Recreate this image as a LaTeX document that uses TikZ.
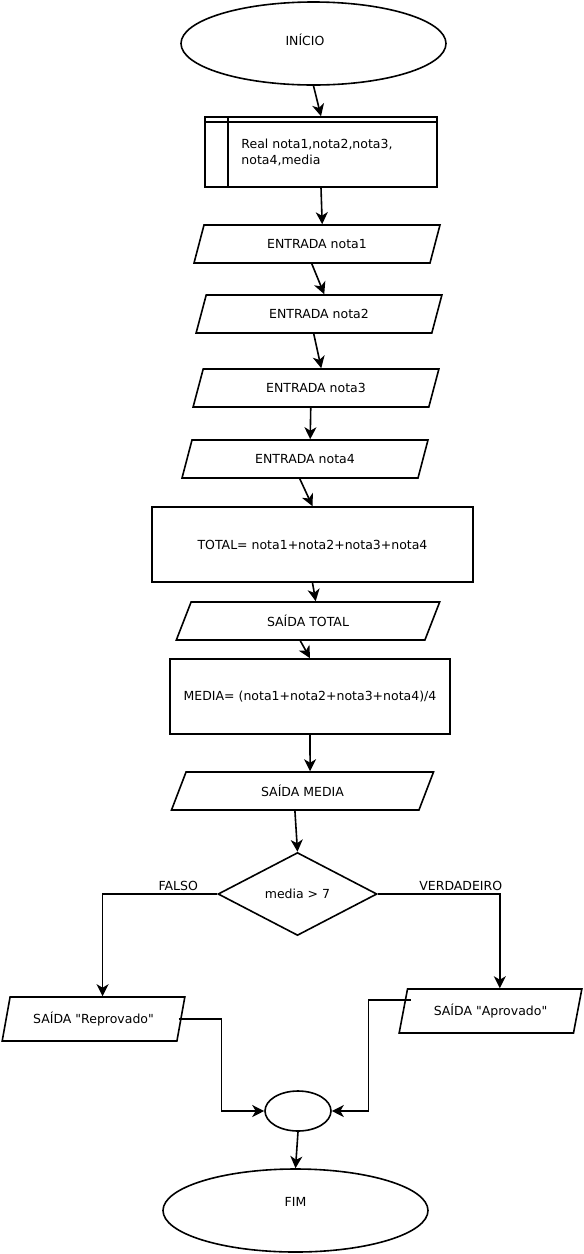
\documentclass[tikz,border=0pt]{standalone}
\usepackage{fontspec}
\setmainfont{DejaVu Sans}[Ligatures=TeXOff]
\usetikzlibrary{shapes.geometric, arrows.meta}

\tikzset{
    base/.style={draw, line width=1.6pt, font=\fontsize{12.5}{16}\selectfont, inner sep=2pt},
    terminal/.style={base, ellipse, minimum width=265, minimum height=83},
    declbox/.style={base, rectangle, minimum width=232, minimum height=70, align=left},
    procbox/.style={base, rectangle, minimum height=75},
    iobox/.style={base, trapezium, trapezium stretches=true,
        trapezium left angle=71, trapezium right angle=109, minimum height=38},
    decision/.style={base, diamond, minimum width=159, minimum height=78},
    joint/.style={base, ellipse, minimum width=66, minimum height=40},
    flow/.style={line width=1.6pt, -{Stealth[length=12pt, width=12pt, inset=3.5pt]}},
    branch/.style={font=\fontsize{12.5}{16}\selectfont, above, inner sep=3pt}
}

\begin{document}
\begin{tikzpicture}[x=1pt, y=-1pt]
    \useasboundingbox (0,0) rectangle (584,1254);

    % Start and declarations
    \node[terminal] (inicio) at (313.5,43.5) {\raisebox{7pt}{INÍCIO}\kern17pt};
    \node[declbox, inner xsep=6pt] (decl) at (321,152) {\hspace{-8pt}Real nota1,nota2,nota3,\\\hspace{-8pt}nota4,media};
    \draw[line width=1.6pt] ([yshift=-6pt]decl.north west) -- ([yshift=-6pt]decl.north east);
    \draw[line width=1.6pt] ([xshift=24pt]decl.north west) -- ([xshift=24pt]decl.south west);

    % Inputs
    \node[iobox, minimum width=246] (in1) at (317,244) {ENTRADA nota1};
    \node[iobox, minimum width=246] (in2) at (319,314) {ENTRADA nota2};
    \node[iobox, minimum width=246] (in3) at (316,388) {ENTRADA nota3};
    \node[iobox, minimum width=246] (in4) at (305,459) {ENTRADA nota4};

    % Processing
    \node[procbox, minimum width=321] (total) at (312.5,544.5) {TOTAL= nota1+nota2+nota3+nota4};
    \node[iobox, minimum width=264] (stotal) at (308,621) {SAÍDA TOTAL};
    \node[procbox, minimum width=280] (media) at (310,696.5) {MEDIA= (nota1+nota2+nota3+nota4)/4};
    \node[iobox, minimum width=263] (smedia) at (302.5,791) {SAÍDA MEDIA};

    % Decision
    \node[decision] (cond) at (297.5,894) {media > 7};
    \node[iobox, minimum width=183, minimum height=44, trapezium left angle=72, trapezium right angle=108] (srep) at (93.5,1019) {SAÍDA "Reprovado"};
    \node[iobox, minimum width=183, minimum height=44, trapezium left angle=72, trapezium right angle=108] (sapr) at (490.5,1011) {SAÍDA "Aprovado"};

    % End
    \node[joint] (join) at (298,1111) {};
    \node[terminal] (fim) at (295.5,1210.5) {\raisebox{17pt}{FIM}};

    % Connectors
    \draw[flow] (inicio.south) -- (decl.north);
    \draw[flow] (decl.south) -- (in1.top side);
    \draw[flow] (in1.bottom side) -- (in2.top side);
    \draw[flow] (in2.bottom side) -- (in3.top side);
    \draw[flow] (in3.bottom side) -- (in4.top side);
    \draw[flow] (in4.bottom side) -- (total.north);
    \draw[flow] (total.south) -- (stotal.top side);
    \draw[flow] (stotal.bottom side) -- (media.north);
    \draw[flow] (media.south) -- (smedia.top side);
    \draw[flow] (smedia.bottom side) -- (cond.north);
    \draw[flow] (cond.west) -| node[branch, pos=0.17] {FALSO} ([xshift=5pt]srep.top side);
    \draw[flow] (cond.east) -| node[branch, pos=0.34] {VERDADEIRO} ([xshift=5pt]sapr.top side);
    \draw[flow] ([xshift=-3pt]srep.right side) -- ++(43,0) |- (join.west);
    \draw[flow] ([xshift=8pt, yshift=11pt]sapr.left side) -- ++(-42,0) |- (join.east);
    \draw[flow] (join.south) -- (fim.north);
\end{tikzpicture}
\end{document}
